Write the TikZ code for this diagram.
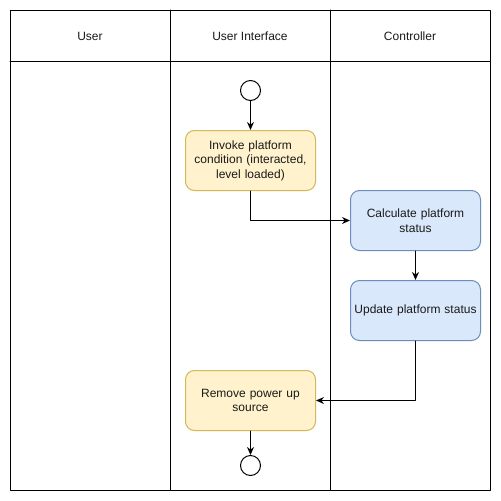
\documentclass[tikz,border=0pt]{standalone}
\usepackage{fontspec}
\setmainfont{Liberation Sans}
\usepackage{xcolor}
\usetikzlibrary{arrows.meta}
\definecolor{uifill}{HTML}{FFF2CC}
\definecolor{uiline}{HTML}{D6B656}
\definecolor{ctfill}{HTML}{DAE8FC}
\definecolor{ctline}{HTML}{6C8EBF}
\definecolor{txt}{HTML}{1A1A1A}
\begin{document}
\begin{tikzpicture}[line cap=round,line join=round,>={Stealth[length=8pt,width=7pt]},x=1pt,y=-1pt,
    every node/.style={font=\fontsize{12}{14.5}\selectfont,text=txt},
    lane/.style={line width=1pt,draw=black},
    startend/.style={circle,draw=black,fill=white,line width=1pt,minimum size=20pt,inner sep=0pt},
    uibox/.style={rectangle,rounded corners=9pt,draw=uiline,fill=uifill,line width=1pt,minimum width=130pt,minimum height=60pt,text width=126pt,align=center,inner sep=0pt},
    ctrlbox/.style={rectangle,rounded corners=9pt,draw=ctline,fill=ctfill,line width=1pt,minimum width=130pt,minimum height=60pt,text width=126pt,align=center,inner sep=0pt},
    flow/.style={->,line width=1pt,draw=black}]
                \useasboundingbox (0,0) rectangle (501,501);
                \fill [white] (0,0) rectangle (501,501);
                \draw [lane] (10,10) rectangle (490,490);
                \draw [lane] (10,61) -- (490,61);
                \draw [lane] (170,10) -- (170,490);
                \draw [lane] (330,10) -- (330,490);
                \node (hUser) at (90,36) {User};
                \node (hInterface) at (250,36) {User Interface};
                \node (hController) at (410,36) {Controller};
                \node [startend] (start) at (250.5,90.5) {};
                \node [uibox] (invoke) at (250.5,160.5) {Invoke platform\\condition (interacted,\\level loaded)};
                \node [ctrlbox] (calc) at (415.5,220.5) {Calculate platform\\status};
                \node [ctrlbox] (update) at (415.5,310.5) {Update platform status};
                \node [uibox] (remove) at (250.5,400.5) {Remove power up\\source};
                \node [startend] (finish) at (250.5,465.5) {};
                \draw [flow] (start) -- (invoke);
                \draw [flow] (invoke) |- (calc);
                \draw [flow] (calc) -- (update);
                \draw [flow] (update) |- (remove);
                \draw [flow] (remove) -- (finish);
            \end{tikzpicture}
\end{document}
